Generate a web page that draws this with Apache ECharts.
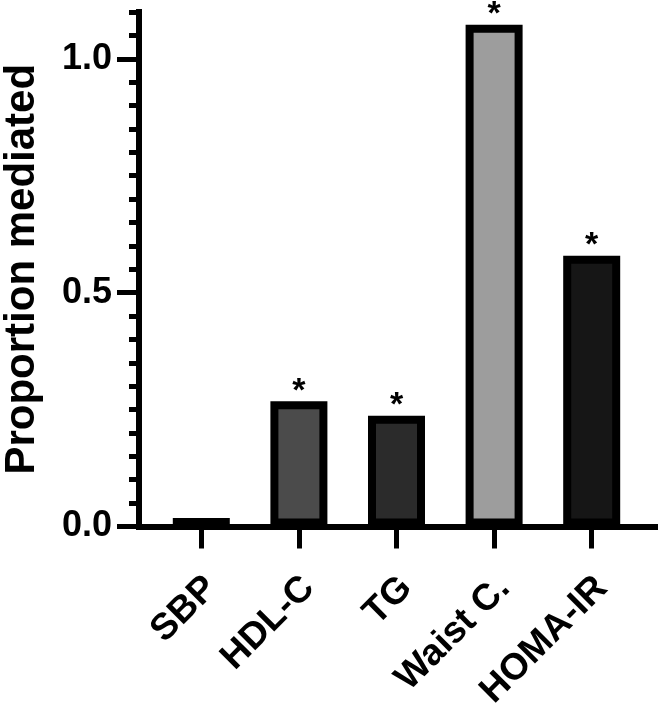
<!DOCTYPE html>
<html>
<head>
<meta charset="utf-8">
<script src="https://cdn.jsdelivr.net/npm/echarts@6/dist/echarts.min.js"></script>
<style>
  html, body { margin: 0; padding: 0; background: #fff; }
  #box { width: 661px; height: 706px; }
</style>
</head>
<body>
<div id="box"></div>
<script>
// data
const categories = ['SBP', 'HDL-C', 'TG', 'Waist C.', 'HOMA-IR']
const proportion = [0.018, 0.268, 0.237, 1.073, 0.579]
const significant = ['', '*', '*', '*', '*']
const yTicks = [0, 0.5, 1.0]

// bar fills (greys)
const fills = ['#000000', '#4b4b4b', '#2b2b2b', '#9d9d9d', '#161616']

const FONT = '"Liberation Sans", Arial, sans-serif'
const chart = echarts.init(document.getElementById('box'), null, { renderer: 'canvas' })

const gridTop = 12, gridBottom = 179.5

chart.setOption({
    animation: false,
    backgroundColor: '#fff',
    grid: [
        // axes frame
        { left: 139, right: 6, top: gridTop, bottom: gridBottom, outerBoundsMode: 'none', containLabel: false },
        // bars
        { left: 152.5, right: 20.5, top: gridTop, bottom: gridBottom, outerBoundsMode: 'none', containLabel: false }
    ],
    xAxis: [
        {
            gridIndex: 0, type: 'value', min: 0, max: 1,
            axisLine: { show: true, onZero: false, lineStyle: { color: '#000', width: 6, cap: 'square' } },
            axisTick: { show: false }, axisLabel: { show: false }, splitLine: { show: false }
        },
        {
            gridIndex: 1, type: 'category', data: categories,
            axisLine: { show: false, onZero: false },
            axisTick: { show: true, alignWithLabel: true, length: 22, lineStyle: { color: '#000', width: 5 } },
            axisLabel: {
                rotate: 45, margin: 46, verticalAlign: 'top', lineHeight: 28, color: '#000',
                fontFamily: FONT, fontWeight: 'bold', fontSize: 37
            },
            splitLine: { show: false }
        }
    ],
    yAxis: [
        {
            // axis line + short ticks every 0.05
            gridIndex: 0, type: 'value', position: 'left', min: 0, max: 1.1, interval: 0.05,
            axisLine: { show: true, onZero: false, lineStyle: { color: '#000', width: 6, cap: 'square' } },
            axisTick: { show: true, inside: false, length: 10, lineStyle: { color: '#000', width: 5 } },
            axisLabel: { show: false }, splitLine: { show: false }
        },
        {
            // long ticks + labels
            gridIndex: 0, type: 'value', position: 'left', min: 0, max: 1.1,
            axisLine: { show: false, onZero: false },
            axisTick: { show: true, inside: false, customValues: yTicks, length: 22, lineStyle: { color: '#000', width: 5 } },
            axisLabel: {
                customValues: yTicks, margin: 27, color: '#000',
                fontFamily: FONT, fontWeight: 'bold', fontSize: 36,
                formatter: v => v.toFixed(1)
            },
            splitLine: { show: false },
            name: 'Proportion mediated', nameLocation: 'middle', nameRotate: 90, nameGap: 96,
            nameTextStyle: { color: '#000', fontFamily: FONT, fontWeight: 'bold', fontSize: 42 }
        },
        {
            gridIndex: 1, type: 'value', min: 0, max: 1.1, show: false
        }
    ],
    series: [
        {
            type: 'bar',
            xAxisIndex: 1,
            yAxisIndex: 2,
            barWidth: 57,
            data: proportion.map((v, i) => ({
                value: v,
                itemStyle: { color: fills[i] }
            })),
            itemStyle: { borderColor: '#000', borderWidth: 8 },
            label: {
                show: true, position: 'top', distance: -7, color: '#000',
                fontFamily: FONT, fontWeight: 'bold', fontSize: 34,
                formatter: p => significant[p.dataIndex]
            }
        }
    ]
})
</script>
</body>
</html>
